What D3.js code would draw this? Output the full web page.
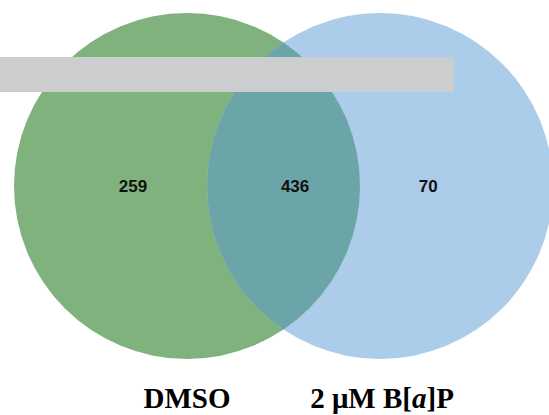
<!DOCTYPE html>
<html>
<head>
<meta charset="utf-8">
<script src="https://cdn.jsdelivr.net/npm/d3@7"></script>
<style>
  html, body { margin: 0; padding: 0; background: #fff; }
  svg { display: block; }
</style>
</head>
<body>
<script>
// ---- data ----
const setNames = ["DMSO", "2 μM B[a]P"];
const regionLabels = ["DMSO only", "both", "2 μM B[a]P only"];
const regionCounts = [259, 436, 70];

// ---- layout ----
const W = 549, H = 415;
const R = 173, CY = 186;
const colors = { a: "#80b27e", b: "#abcde9", ab: "#6ca5a8" };

const svg = d3.select("body").append("svg").attr("width", W).attr("height", H);

// x scale: set index -> circle centre
const x = d3.scaleLinear().domain([0, 1]).range([187, 380]);
// region scale: region index -> label centre (exclusive, overlap, exclusive)
const xr = d3.scaleOrdinal().domain(regionLabels).range([x(-0.28), x(0.56), x(1.25)]);

const defs = svg.append("defs");
defs.append("clipPath").attr("id", "clipA")
  .append("circle").attr("cx", x(0)).attr("cy", CY).attr("r", R);

svg.selectAll("circle.set")
  .data(setNames)
  .join("circle")
  .attr("class", "set")
  .attr("cx", (d, i) => x(i))
  .attr("cy", CY)
  .attr("r", R)
  .attr("fill", (d, i) => i === 0 ? colors.a : colors.b);

// overlap lens
svg.append("circle")
  .attr("cx", x(1)).attr("cy", CY).attr("r", R)
  .attr("clip-path", "url(#clipA)")
  .attr("fill", colors.ab);

// grey banner
svg.append("rect")
  .attr("x", 0).attr("y", 57).attr("width", 454).attr("height", 35)
  .attr("fill", "#cccdcf");

// region counts
svg.selectAll("text.count")
  .data(regionCounts)
  .join("text")
  .attr("class", "count")
  .attr("x", (d, i) => xr(regionLabels[i]))
  .attr("y", 192)
  .attr("text-anchor", "middle")
  .attr("font-family", "'Liberation Sans', Arial, sans-serif")
  .attr("font-weight", "bold")
  .attr("font-size", 17)
  .attr("fill", "#111")
  .text(d => d);

// set labels
const lab = svg.selectAll("text.setlabel")
  .data(setNames)
  .join("text")
  .attr("class", "setlabel")
  .attr("x", (d, i) => x(i) + (i === 1 ? 2 : 0))
  .attr("y", 408)
  .attr("text-anchor", "middle")
  .attr("font-family", "'Liberation Serif', 'Times New Roman', serif")
  .attr("font-weight", "bold")
  .attr("font-size", 29)
  .attr("fill", "#000");

lab.each(function(d) {
  const t = d3.select(this);
  const m = d.match(/^(.*\[)(a)(\].*)$/);
  if (m) {
    t.append("tspan").text(m[1]);
    t.append("tspan").attr("font-style", "italic").text(m[2]);
    t.append("tspan").text(m[3]);
  } else {
    t.text(d);
  }
});
</script>
</body>
</html>
